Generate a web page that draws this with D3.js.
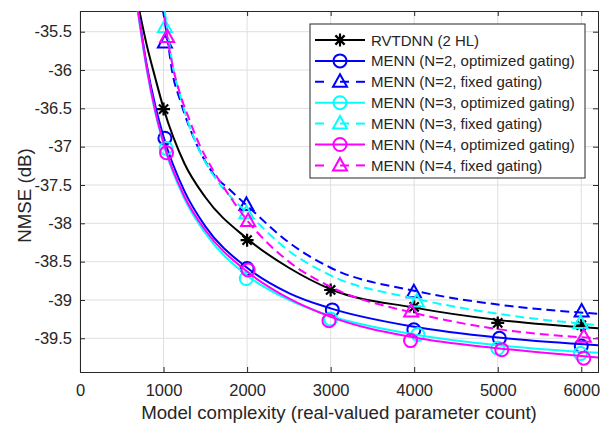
<!DOCTYPE html>
<html>
<head>
<meta charset="utf-8">
<script src="https://cdn.jsdelivr.net/npm/d3@7"></script>
<style>
  body { margin: 0; background: #fff; }
  text { font-family: "Liberation Sans", Arial, sans-serif; fill: #262626; }
</style>
</head>
<body>
<svg id="chart"></svg>
<script>
var width = 603,
    height = 426;

/**
 * Data
 */
var xTicks = [0, 1000, 2000, 3000, 4000, 5000, 6000];
var yTicks = [-39.5, -39, -38.5, -38, -37.5, -37, -36.5, -36, -35.5];

var seriesNames = [
  "RVTDNN (2 HL)",
  "MENN (N=2, optimized gating)",
  "MENN (N=2, fixed gating)",
  "MENN (N=3, optimized gating)",
  "MENN (N=3, fixed gating)",
  "MENN (N=4, optimized gating)",
  "MENN (N=4, fixed gating)"
];

// fitted curves (solid ones share x, dashed ones share x)
var solidCurveX = [680, 800, 900, 1000, 1250, 1500, 2000, 2500, 3000, 4000, 5000, 6200];
var rvtdnnCurveY = [-35.06, -35.68, -36.1, -36.5, -37.22, -37.66, -38.2, -38.58, -38.86, -39.1, -39.26, -39.37];
var menn2OptCurveY = [-35.1, -35.94, -36.46, -36.87, -37.58, -38.04, -38.58, -38.91, -39.11, -39.35, -39.49, -39.59];
var menn3OptCurveY = [-35.15, -36.0, -36.55, -36.97, -37.68, -38.13, -38.68, -39.0, -39.21, -39.45, -39.59, -39.69];
var menn4OptCurveY = [-35.12, -35.98, -36.53, -36.95, -37.65, -38.09, -38.63, -38.98, -39.22, -39.49, -39.63, -39.75];

var dashedCurveX = [990, 1050, 1100, 1200, 1300, 1400, 1600, 1800, 2000, 2500, 3000, 4000, 5000, 6200];
var menn2FixCurveY = [-35.2, -35.62, -36.0, -36.4, -36.72, -36.98, -37.36, -37.57, -37.77, -38.25, -38.58, -38.88, -39.06, -39.18];
var menn3FixCurveY = [-35.05, -35.5, -35.88, -36.34, -36.7, -36.98, -37.38, -37.65, -37.86, -38.36, -38.68, -38.98, -39.18, -39.33];
var menn4FixCurveY = [-35.12, -35.6, -35.9, -36.32, -36.62, -36.9, -37.32, -37.66, -37.96, -38.5, -38.83, -39.17, -39.38, -39.5];

// measured points (markers)
var rvtdnnX = [1000, 2000, 3000, 4000, 5000, 6000];
var rvtdnnY = [-36.51, -38.22, -38.87, -39.09, -39.3, -39.33];
var menn2OptX = [1016, 2000, 3020, 3996, 5020, 6000];
var menn2OptY = [-36.89, -38.59, -39.13, -39.39, -39.5, -39.6];
var menn3OptX = [1030, 1990, 3000, 4044, 5000, 5990];
var menn3OptY = [-37.02, -38.72, -39.25, -39.45, -39.63, -39.7];
var menn4OptX = [1036, 2012, 2980, 3956, 5048, 6030];
var menn4OptY = [-37.08, -38.61, -39.27, -39.53, -39.65, -39.76];
var menn2FixX = [1016, 1992, 3996, 6004];
var menn2FixY = [-35.64, -37.76, -38.9, -39.15];
var menn3FixX = [1016, 1992, 4032, 5990];
var menn3FixY = [-35.44, -37.87, -39.02, -39.3];
var menn4FixX = [1043, 2012, 3964, 6030];
var menn4FixY = [-35.57, -37.97, -39.15, -39.48];

var series = [
  { color: "#000000", dash: null,  marker: "star",     cx: solidCurveX,  cy: rvtdnnCurveY,   mx: rvtdnnX,   my: rvtdnnY },
  { color: "#0000ff", dash: null,  marker: "circle",   cx: solidCurveX,  cy: menn2OptCurveY, mx: menn2OptX, my: menn2OptY },
  { color: "#0000ff", dash: "9,5", marker: "triangle", cx: dashedCurveX, cy: menn2FixCurveY, mx: menn2FixX, my: menn2FixY },
  { color: "#00ffff", dash: null,  marker: "circle",   cx: solidCurveX,  cy: menn3OptCurveY, mx: menn3OptX, my: menn3OptY },
  { color: "#00ffff", dash: "9,5", marker: "triangle", cx: dashedCurveX, cy: menn3FixCurveY, mx: menn3FixX, my: menn3FixY },
  { color: "#ff00ff", dash: null,  marker: "circle",   cx: solidCurveX,  cy: menn4OptCurveY, mx: menn4OptX, my: menn4OptY },
  { color: "#ff00ff", dash: "9,5", marker: "triangle", cx: dashedCurveX, cy: menn4FixCurveY, mx: menn4FixX, my: menn4FixY }
];
series.forEach(function(s, i) { s.name = seriesNames[i]; });

/**
 * Layout
 */
var margin = { left: 80, right: 5, top: 11, bottom: 54 };
var plotW = width - margin.left - margin.right,
    plotH = height - margin.top - margin.bottom;

var x = d3.scaleLinear().domain([0, 6200]).range([0, plotW]);
var y = d3.scaleLinear().domain([-39.94, -35.23]).range([plotH, 0]);

var svg = d3.select("#chart").attr("width", width).attr("height", height);
var g = svg.append("g").attr("transform", "translate(" + margin.left + "," + margin.top + ")");

g.append("rect").attr("width", plotW).attr("height", plotH).attr("fill", "#fff");

// grid
g.selectAll(".gx").data(xTicks).enter().append("line")
  .attr("x1", function(d) { return x(d); }).attr("x2", function(d) { return x(d); })
  .attr("y1", 0).attr("y2", plotH)
  .attr("stroke", "#dfdfdf").attr("stroke-width", 1);
g.selectAll(".gy").data(yTicks).enter().append("line")
  .attr("y1", function(d) { return y(d); }).attr("y2", function(d) { return y(d); })
  .attr("x1", 0).attr("x2", plotW)
  .attr("stroke", "#dfdfdf").attr("stroke-width", 1);

// axes (ticks inside, box all round)
var xAxis = g.append("g").attr("transform", "translate(0," + plotH + ")")
  .call(d3.axisBottom(x).tickValues(xTicks).tickSize(-5).tickPadding(12).tickFormat(d3.format("d")));
var yAxis = g.append("g")
  .call(d3.axisLeft(y).tickValues(yTicks).tickSize(-5).tickPadding(8).tickFormat(function(d) { return String(d); }));
var xTop = g.append("g")
  .call(d3.axisTop(x).tickValues(xTicks).tickSize(-5).tickFormat(""));
var yRight = g.append("g").attr("transform", "translate(" + plotW + ",0)")
  .call(d3.axisRight(y).tickValues(yTicks).tickSize(-5).tickFormat(""));

[xAxis, yAxis, xTop, yRight].forEach(function(a) {
  a.select(".domain").attr("stroke", "#262626").attr("stroke-width", 1);
  a.selectAll(".tick line").attr("stroke", "#262626");
  a.selectAll("text").attr("font-size", 16.5).attr("fill", "#262626")
    .style("font-family", "'Liberation Sans', Arial, sans-serif");
});

/**
 * Curves and markers
 */
svg.append("clipPath").attr("id", "plotclip")
  .append("rect").attr("width", plotW).attr("height", plotH);

var line = d3.line()
  .x(function(d) { return x(d[0]); })
  .y(function(d) { return y(d[1]); })
  .curve(d3.curveMonotoneX);

var star = "M-6.5,0L6.5,0M0,-6.5L0,6.5M-4.6,-4.6L4.6,4.6M-4.6,4.6L4.6,-4.6";
var tri = "M0,-7.5L7,5L-7,5Z";

function drawMarker(sel, type, color) {
  if (type === "circle") {
    sel.append("circle").attr("r", 6.5);
  } else if (type === "triangle") {
    sel.append("path").attr("d", tri);
  } else {
    sel.append("path").attr("d", star);
  }
  sel.selectAll("circle, path")
    .attr("fill", "none")
    .attr("stroke", color)
    .attr("stroke-width", type === "star" ? 2.2 : 2);
}

var plot = g.append("g").attr("clip-path", "url(#plotclip)");

series.forEach(function(s) {
  var pts = s.cx.map(function(v, i) { return [v, s.cy[i]]; });
  plot.append("path")
    .datum(pts)
    .attr("d", line)
    .attr("fill", "none")
    .attr("stroke", s.color)
    .attr("stroke-width", 2)
    .attr("stroke-dasharray", s.dash);

  var mk = s.mx.map(function(v, i) { return [v, s.my[i]]; });
  plot.selectAll(null).data(mk).enter().append("g")
    .attr("transform", function(d) { return "translate(" + x(d[0]) + "," + y(d[1]) + ")"; })
    .each(function() { drawMarker(d3.select(this), s.marker, s.color); });
});

/**
 * Axis labels
 */
svg.append("text")
  .attr("x", margin.left + plotW / 2)
  .attr("y", 419)
  .attr("text-anchor", "middle")
  .attr("font-size", 18.7)
  .text("Model complexity (real-valued parameter count)");

svg.append("text")
  .attr("transform", "translate(31," + (margin.top + plotH / 2 + 4) + ") rotate(-90)")
  .attr("text-anchor", "middle")
  .attr("font-size", 18.7)
  .text("NMSE (dB)");

/**
 * Legend
 */
var legend = svg.append("g").attr("transform", "translate(310,24)");
legend.append("rect")
  .attr("width", 275).attr("height", 154)
  .attr("fill", "#fff").attr("stroke", "#262626").attr("stroke-width", 1);

var rows = legend.selectAll(".row").data(series).enter().append("g")
  .attr("transform", function(d, i) { return "translate(0," + (16 + i * 20.9) + ")"; });

rows.append("line")
  .attr("x1", 5).attr("x2", 55)
  .attr("stroke", function(d) { return d.color; })
  .attr("stroke-width", 2)
  .attr("stroke-dasharray", function(d) { return d.dash ? "9,16" : null; });
rows.append("line")
  .filter(function(d) { return d.dash; })
  .attr("x1", 46).attr("x2", 55)
  .attr("stroke", function(d) { return d.color; })
  .attr("stroke-width", 2);
rows.append("g").attr("transform", "translate(30,0)")
  .each(function(d) { drawMarker(d3.select(this), d.marker, d.color); });
rows.append("text")
  .attr("x", 61).attr("y", 5.5)
  .attr("font-size", 15)
  .text(function(d) { return d.name; });
</script>
</body>
</html>
